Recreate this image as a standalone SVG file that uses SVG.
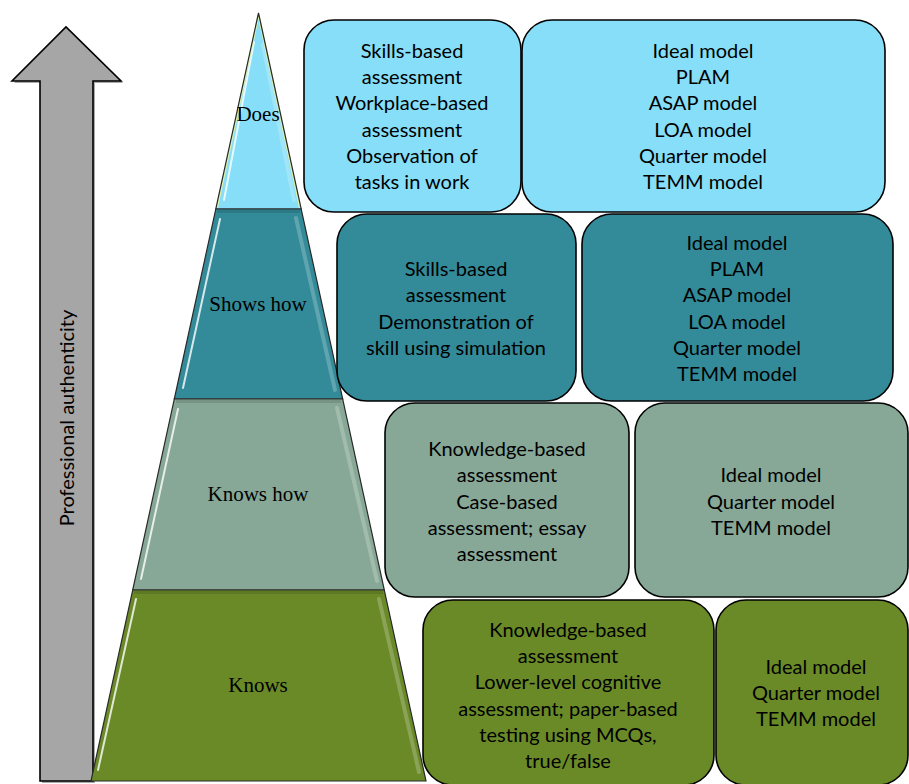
<svg xmlns="http://www.w3.org/2000/svg" width="909" height="784" viewBox="0 0 909 784">
<style>
.box{stroke:#000;stroke-width:1.6}
.t{font-family:Lato,"Liberation Sans",sans-serif;font-size:20px;fill:#000;text-anchor:middle}
.lvl{font-family:"Liberation Serif","Times New Roman",serif;font-size:21px;fill:#000;text-anchor:middle}
.edge{fill:none;stroke:#2a2a2a;stroke-width:1.2}
.rb{stroke:#fff;stroke-opacity:0.22;stroke-width:4;stroke-linecap:round}
.tb{stroke:#000;stroke-opacity:0.12;stroke-width:3}
.hl{stroke:#fff;stroke-opacity:0.8;stroke-width:2;stroke-linecap:round}
.c1{fill:#87DEF8}.c2{fill:#338B99}.c3{fill:#87A896}.c4{fill:#6A8A28}
</style>
<rect width="909" height="784" fill="#fff"/>
<g id="axis">
<polygon points="42,783 95,783 95,83 123,83 68,29 14,83 42,83" fill="#555" opacity="0.5"/>
<polygon points="40,781 93,781 93,81 121,81 66,27 12,81 40,81" fill="#A6A6A6" stroke="#000" stroke-width="1.6"/>
<text x="74" y="418" transform="rotate(-90 74 418)" class="t">Professional authenticity</text>
</g>
<g id="pyramid">
<g id="level-does">
<polygon points="258.5,13 301.2,209 215.8,209" class="c1"/>
<line x1="263" y1="45" x2="294" y2="200" class="rb"/>
<line x1="254" y1="42" x2="224" y2="200" class="hl" stroke-opacity="0.55"/>
<line x1="258.5" y1="15" x2="300" y2="208" stroke="#D9F2B0" stroke-width="2"/>
<line x1="258.5" y1="15" x2="217" y2="208" stroke="#D9F2B0" stroke-width="2"/>
<polygon points="258.5,13 301.2,209 215.8,209" class="edge"/>
<text x="258" y="121" class="lvl">Does</text>
</g>
<g id="level-shows">
<polygon points="215.8,209 301.2,209 342.7,399 174.3,399" class="c2"/>
<line x1="217" y1="211.5" x2="300" y2="211.5" class="tb"/>
<line x1="296" y1="218" x2="335" y2="390" class="rb"/>
<line x1="220" y1="219" x2="183" y2="388" class="hl"/>
<polygon points="215.8,209 301.2,209 342.7,399 174.3,399" class="edge"/>
<text x="258" y="311" class="lvl">Shows how</text>
</g>
<g id="level-knowshow">
<polygon points="174.3,399 342.7,399 384.3,590 132.7,590" class="c3"/>
<line x1="176" y1="401.5" x2="341" y2="401.5" class="tb"/>
<line x1="337" y1="408" x2="377" y2="581" class="rb"/>
<line x1="178" y1="409" x2="141" y2="579" class="hl"/>
<polygon points="174.3,399 342.7,399 384.3,590 132.7,590" class="edge"/>
<text x="258" y="501" class="lvl">Knows how</text>
</g>
<g id="level-knows">
<polygon points="132.7,590 384.3,590 426,781 91,781" class="c4"/>
<line x1="134" y1="592.5" x2="383" y2="592.5" class="tb"/>
<line x1="379" y1="599" x2="419" y2="772" class="rb"/>
<line x1="136" y1="599" x2="98" y2="770" class="hl" stroke="#F4FFD0"/>
<polygon points="132.7,590 384.3,590 426,781 91,781" class="edge"/>
<text x="258" y="692" class="lvl">Knows</text>
</g>
</g>
<g id="connectors"></g>
<g id="does-methods">
<rect x="304" y="20" width="217" height="192" rx="30" class="box c1"/>
<text class="t"><tspan x="412" y="58">Skills-based</tspan><tspan x="412" y="84">assessment</tspan><tspan x="412" y="110">Workplace-based</tspan><tspan x="412" y="137">assessment</tspan><tspan x="412" y="163">Observation of</tspan><tspan x="412" y="189">tasks in work</tspan></text>
</g>
<g id="does-models">
<rect x="522" y="20" width="363" height="192" rx="30" class="box c1"/>
<text class="t"><tspan x="703" y="58">Ideal model</tspan><tspan x="703" y="84">PLAM</tspan><tspan x="703" y="110">ASAP model</tspan><tspan x="703" y="137">LOA model</tspan><tspan x="703" y="163">Quarter model</tspan><tspan x="703" y="189">TEMM model</tspan></text>
</g>
<g id="shows-methods">
<rect x="337" y="214" width="239" height="187" rx="30" class="box c2"/>
<text class="t"><tspan x="456" y="276">Skills-based</tspan><tspan x="456" y="302">assessment</tspan><tspan x="456" y="329">Demonstration of</tspan><tspan x="456" y="355">skill using simulation</tspan></text>
</g>
<g id="shows-models">
<rect x="582" y="214" width="311" height="187" rx="30" class="box c2"/>
<text class="t"><tspan x="737" y="250">Ideal model</tspan><tspan x="737" y="276">PLAM</tspan><tspan x="737" y="302">ASAP model</tspan><tspan x="737" y="329">LOA model</tspan><tspan x="737" y="355">Quarter model</tspan><tspan x="737" y="381">TEMM model</tspan></text>
</g>
<g id="knowshow-methods">
<rect x="385" y="403" width="244" height="194" rx="30" class="box c3"/>
<text class="t"><tspan x="507" y="456">Knowledge-based</tspan><tspan x="507" y="482">assessment</tspan><tspan x="507" y="509">Case-based</tspan><tspan x="507" y="535">assessment; essay</tspan><tspan x="507" y="561">assessment</tspan></text>
</g>
<g id="knowshow-models">
<rect x="635" y="403" width="273" height="194" rx="30" class="box c3"/>
<text class="t"><tspan x="771" y="482">Ideal model</tspan><tspan x="771" y="509">Quarter model</tspan><tspan x="771" y="535">TEMM model</tspan></text>
</g>
<g id="knows-methods">
<rect x="423" y="600" width="291" height="185" rx="30" class="box c4"/>
<text class="t"><tspan x="568" y="637">Knowledge-based</tspan><tspan x="568" y="663">assessment</tspan><tspan x="568" y="689">Lower-level cognitive</tspan><tspan x="568" y="716">assessment; paper-based</tspan><tspan x="568" y="742">testing using MCQs,</tspan><tspan x="568" y="768">true/false</tspan></text>
</g>
<g id="knows-models">
<rect x="716" y="600" width="192" height="185" rx="30" class="box c4"/>
<text class="t"><tspan x="816" y="674">Ideal model</tspan><tspan x="816" y="700">Quarter model</tspan><tspan x="816" y="726">TEMM model</tspan></text>
</g>
</svg>
